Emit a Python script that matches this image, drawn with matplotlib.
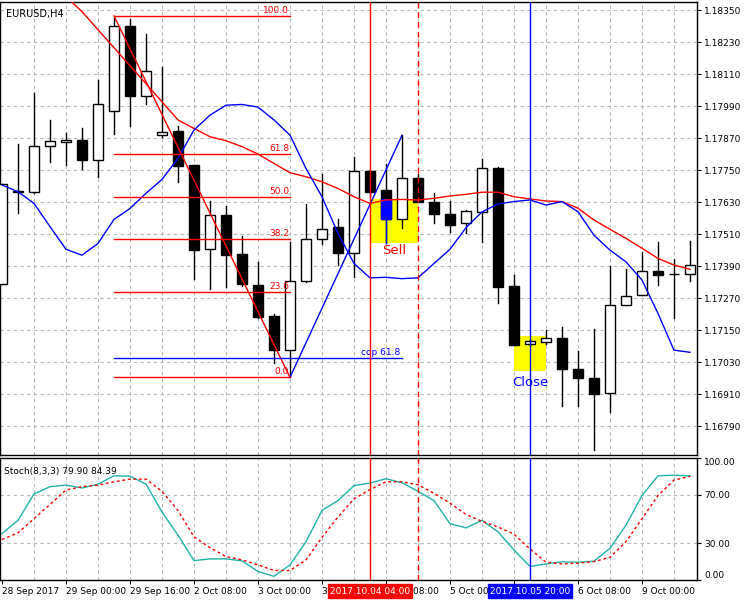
import matplotlib
matplotlib.use("Agg")
import matplotlib.pyplot as plt
from matplotlib.patches import Rectangle

opens = [1.17323,1.1767,1.1767,1.1784,1.17855,1.17864,1.17787,1.17971,1.1829,1.18027,1.17884,1.17897,1.1777,1.17454,1.17582,1.17436,1.1732,1.17204,1.17075,1.17336,1.17491,1.17537,1.17439,1.17746,1.17675,1.17567,1.1772,1.17631,1.17585,1.17551,1.17592,1.17757,1.17316,1.17098,1.17105,1.1712,1.17004,1.1697,1.16914,1.17245,1.17284,1.17372,1.17361,1.17361]
highs = [1.17699,1.17849,1.18041,1.17939,1.17889,1.17909,1.18089,1.1832,1.18318,1.18261,1.18136,1.17916,1.1777,1.17635,1.17616,1.17504,1.17406,1.17213,1.17481,1.17624,1.17736,1.17567,1.178,1.1775,1.17774,1.17881,1.17736,1.17664,1.17635,1.176,1.17792,1.17761,1.17356,1.17115,1.17151,1.17161,1.17072,1.17155,1.17391,1.17379,1.17444,1.1748,1.17416,1.17484]
lows = [1.17323,1.17589,1.17666,1.17781,1.1777,1.17755,1.17726,1.17887,1.17917,1.17999,1.17876,1.17707,1.17344,1.17306,1.17311,1.17316,1.17195,1.17026,1.16974,1.17332,1.17475,1.17395,1.17351,1.17651,1.17476,1.17535,1.17632,1.17551,1.1752,1.17514,1.17482,1.17254,1.17096,1.17095,1.171,1.16867,1.16867,1.16701,1.16845,1.17245,1.17284,1.1732,1.17197,1.17336]
closes = [1.17699,1.17672,1.17841,1.17859,1.17864,1.1779,1.17997,1.1829,1.1803,1.18122,1.17892,1.17767,1.17452,1.17581,1.17434,1.17324,1.17201,1.17075,1.17336,1.17491,1.17532,1.1744,1.17746,1.17669,1.17567,1.1772,1.17632,1.17587,1.17546,1.17596,1.17757,1.17311,1.17096,1.17112,1.1712,1.17004,1.1697,1.16912,1.17245,1.17279,1.17371,1.17359,1.17361,1.17394]

ma_red_start = 4
ma_red = [1.18401,1.18345,1.18277,1.1821,1.18142,1.18075,1.18007,1.17939,1.17907,1.17876,1.17861,1.17839,1.17811,1.17776,1.17741,1.17726,1.17707,1.17682,1.17651,1.17626,1.17639,1.17641,1.17639,1.17645,1.17654,1.1766,1.17668,1.17668,1.17651,1.17643,1.17635,1.17633,1.17608,1.17564,1.17529,1.17495,1.17458,1.1742,1.17395,1.17379]
ma_blue = [1.17695,1.1767,1.17626,1.17539,1.17454,1.17432,1.17476,1.17566,1.17607,1.17664,1.17716,1.17795,1.17901,1.17957,1.17994,1.17997,1.17987,1.17939,1.17882,1.17757,1.17651,1.17514,1.17401,1.17347,1.17349,1.17344,1.17347,1.17401,1.17454,1.17535,1.17594,1.17624,1.17633,1.17639,1.1762,1.17633,1.17595,1.17507,1.17451,1.17407,1.17339,1.17214,1.17076,1.17068]

stoch_main = [38.1,48.9,70.5,76.5,77.8,75.4,78.6,85.4,85.1,78.6,55.7,36.8,15.9,17.3,17.3,15.7,7,3,12.4,31.4,57,65.1,77.3,79.5,83,79.7,72.7,65.1,46.2,42.7,48.9,39.5,24.6,11.1,13.2,14.9,14.6,15.4,25.9,44.9,69.2,85.4,85.9,85.4]
stoch_signal = [33.2,38.6,50.3,61.9,73.8,76.5,77.8,80.5,82.7,82.7,72.7,57,35.4,26.5,19.2,16.5,12.4,7.8,7.8,16.5,34.9,51.6,66.5,74.1,80.5,80.5,78.1,71.1,63,53.8,48.1,43.5,37.6,25.4,14.6,13.2,13.8,15.1,18.6,31.4,50.3,69.2,81.9,84.9]

fib_levels = [100.0, 61.8, 50.0, 38.2, 23.6, 0.0]
fib_hi, fib_lo = 1.18329, 1.16974
fib_i0, fib_i1 = 7, 18
cop_price = 1.17045
cop_i1 = 25
blue_zz_end = (25, 1.17881)

sell_rect = (23, 26, 1.17476, 1.17642)
close_rect = (32, 34, 1.16999, 1.17129)
sell_line, sell_dash, close_line = 23, 26, 33

price_ticks = [1.18350,1.18230,1.18110,1.17990,1.17870,1.17750,1.17630,1.17510,1.17390,1.17270,1.17150,1.17030,1.16910,1.16790]
xtick_idx = [0,4,8,12,16,20,24,28,32,36,40]
xtick_lbl = ["28 Sep 2017","29 Sep 00:00","29 Sep 16:00","2 Oct 08:00","3 Oct 00:00","3 Oct 16:00","4 Oct 08:00","5 Oct 00:00","5 Oct 16:00","6 Oct 08:00","9 Oct 00:00"]

fig = plt.figure(figsize=(7.5, 6), dpi=100)
ax = fig.add_axes([0.0, 1-455/600, 697/750, (455-2)/600])
ax2 = fig.add_axes([0.0, 1-580/600, 697/750, (580-458)/600])
XL = (-0.125, 43.44)
gridkw = dict(color="#b8b8b8", linestyle=(0, (3, 3)), linewidth=0.8, zorder=0)
n = len(opens)
for a in (ax, ax2):
    a.set_xlim(*XL)
    for s in a.spines.values():
        s.set_color("black"); s.set_linewidth(1)
    for gi in range(2, n, 2):
        a.axvline(gi, **gridkw)
ax.set_ylim(1.16683, 1.18381)
ax2.set_ylim(0, 100)
for p in price_ticks:
    ax.axhline(p, **gridkw)
for v in (30, 70):
    ax2.axhline(v, **gridkw)

# rectangles
for (a0, a1, b0, b1) in (sell_rect, close_rect):
    ax.add_patch(Rectangle((a0, b0), a1-a0, b1-b0, color="yellow", zorder=1, lw=0))

# candles
w = 0.6
for i in range(n):
    o, h, l, c = opens[i], highs[i], lows[i], closes[i]
    ax.plot([i, i], [l, h], color="black", lw=1, zorder=3)
    bull = c >= o
    lo_, hi_ = min(o, c), max(o, c)
    ax.add_patch(Rectangle((i-w/2, lo_), w, max(hi_-lo_, 0.00002),
                           facecolor="white" if bull else "black", edgecolor="black", lw=1, zorder=4))
# XOR-like blue portion inside sell box
i = 24
ax.add_patch(Rectangle((i-w/2, closes[i]), w, sell_rect[3]-closes[i], facecolor="blue", edgecolor="blue", lw=1, zorder=5))
ax.plot([i, i], [lows[i], closes[i]], color="blue", lw=1, zorder=5)

# MAs
ax.plot(range(ma_red_start, ma_red_start+len(ma_red)), ma_red, color="red", lw=1, zorder=6)
ax.plot(range(n), ma_blue, color="blue", lw=1, zorder=6)

# zigzags / fibo
ax.plot([fib_i0, fib_i1], [fib_hi, fib_lo], color="red", lw=1, zorder=6)
ax.plot([fib_i1, blue_zz_end[0]], [fib_lo, blue_zz_end[1]], color="blue", lw=1, zorder=6)
for lv in fib_levels:
    p = fib_lo + (fib_hi-fib_lo)*lv/100
    ax.plot([fib_i0, fib_i1], [p, p], color="red", lw=1, zorder=6)
    ax.text(fib_i1-0.05, p+0.00004, f"{lv:.1f}", color="red", fontsize=6.5, ha="right", va="bottom", zorder=7)
ax.plot([fib_i0, cop_i1], [cop_price, cop_price], color="blue", lw=1, zorder=6)
ax.text(cop_i1-0.1, cop_price+0.00004, "cop 61.8", color="blue", fontsize=6.5, ha="right", va="bottom", zorder=7)

ax.text(24.5, 1.17448, "Sell", color="red", fontsize=9.5, ha="center", va="center", zorder=7)
ax.text(33, 1.16956, "Close", color="blue", fontsize=9.5, ha="center", va="center", zorder=7)

for a in (ax, ax2):
    a.axvline(sell_line, color="red", lw=1, zorder=8)
    a.axvline(sell_dash, color="red", lw=1, ls=(0, (4, 3)), zorder=8)
    a.axvline(close_line, color="blue", lw=1, zorder=8)

ax.text(0.008, 0.985, "EURUSD,H4", transform=ax.transAxes, fontsize=7, va="top", ha="left")

# stoch
ax2.plot(range(n), stoch_main, color="#20b2aa", lw=1, zorder=5)
ax2.plot(range(n), stoch_signal, color="red", lw=1, ls=(0, (2, 2)), zorder=5)
ax2.text(0.006, 0.93, "Stoch(8,3,3) 79.90 84.39", transform=ax2.transAxes, fontsize=6.5, va="top", ha="left")

# axes ticks
ax.yaxis.tick_right()
ax.set_yticks(price_ticks)
ax.set_yticklabels([f"{p:.5f}" for p in price_ticks])
ax.tick_params(axis="y", labelsize=6.5, length=3, pad=2)
ax.set_xticks([])
ax2.yaxis.tick_right()
ax2.set_yticks([0, 30, 70, 100])
ax2.set_yticklabels(["0.00", "30.00", "70.00", "100.00"])
ax2.tick_params(axis="y", labelsize=6.5, length=3, pad=2)
labs = ax2.get_yticklabels()
labs[0].set_va("bottom"); labs[3].set_va("top")
ax2.set_xticks(xtick_idx)
ax2.set_xticklabels(xtick_lbl, ha="left")
ax2.tick_params(axis="x", labelsize=6.5, length=3, pad=2)

# time boxes
ax2.text(sell_line, -0.055, "2017.10.04 04:00", transform=ax2.get_xaxis_transform(), ha="center", va="top",
         fontsize=6.5, color="white", bbox=dict(boxstyle="square,pad=0.25", fc="red", ec="red"), zorder=10)
ax2.text(close_line, -0.055, "2017.10.05 20:00", transform=ax2.get_xaxis_transform(), ha="center", va="top",
         fontsize=6.5, color="white", bbox=dict(boxstyle="square,pad=0.25", fc="blue", ec="blue"), zorder=10)

fig.savefig("out.png", dpi=100, facecolor="white")
